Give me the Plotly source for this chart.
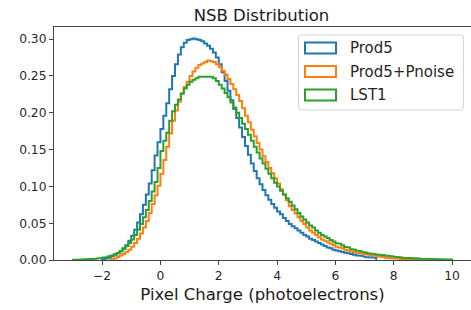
import numpy as np
import plotly.graph_objects as go

# ---------------- data (density histograms, bin width 0.1) ----------------
BIN_WIDTH = 0.1
series_names = ["Prod5", "Prod5+Pnoise", "LST1"]
series_colors = ["#1f77b4", "#ff7f0e", "#2ca02c"]

prod5_start = -2.0
prod5 = [0.001, 0.002, 0.003, 0.005, 0.007, 0.009, 0.012, 0.016, 0.020, 0.026,
         0.033, 0.041, 0.051, 0.062, 0.075, 0.089, 0.104, 0.122, 0.142, 0.160,
         0.178, 0.196, 0.213, 0.232, 0.250, 0.266, 0.279, 0.289, 0.295, 0.299,
         0.300, 0.301, 0.300, 0.299, 0.297, 0.294, 0.291, 0.287, 0.282, 0.275,
         0.266, 0.255, 0.243, 0.230, 0.217, 0.205, 0.193, 0.180, 0.167, 0.155,
         0.143, 0.131, 0.121, 0.111, 0.103, 0.095, 0.088, 0.082, 0.076, 0.071,
         0.066, 0.062, 0.057, 0.053, 0.049, 0.046, 0.043, 0.040, 0.037, 0.034,
         0.032, 0.029, 0.027, 0.025, 0.023, 0.021, 0.019, 0.017, 0.016, 0.014,
         0.013, 0.012, 0.011, 0.010, 0.009, 0.008, 0.007, 0.006, 0.006, 0.005,
         0.004, 0.004, 0.003, 0.003]

pnoise_start = -1.7
pnoise = [0.001, 0.002, 0.004, 0.006, 0.008, 0.011, 0.014, 0.018, 0.023, 0.029,
          0.036, 0.044, 0.053, 0.064, 0.076, 0.088, 0.101, 0.117, 0.136, 0.154,
          0.172, 0.189, 0.203, 0.215, 0.226, 0.235, 0.242, 0.250, 0.256, 0.261,
          0.265, 0.267, 0.269, 0.271, 0.270, 0.269, 0.266, 0.262, 0.257, 0.252,
          0.246, 0.239, 0.232, 0.224, 0.216, 0.206, 0.196, 0.187, 0.177, 0.168,
          0.159, 0.150, 0.141, 0.133, 0.125, 0.118, 0.111, 0.104, 0.096, 0.089,
          0.081, 0.073, 0.068, 0.063, 0.058, 0.053, 0.049, 0.044, 0.040, 0.037,
          0.034, 0.031, 0.028, 0.026, 0.024, 0.022, 0.020, 0.018, 0.017, 0.016,
          0.014, 0.013, 0.012, 0.011, 0.010, 0.009, 0.0085, 0.008, 0.007, 0.0065,
          0.006, 0.005, 0.0045, 0.004, 0.0032, 0.0028, 0.0025, 0.0022, 0.002, 0.0015,
          0.0012, 0.001, 0.0009, 0.0008, 0.0007, 0.0006]

lst1_start = -3.0
lst1 = [0.0003, 0.0004, 0.0005, 0.0006, 0.0008, 0.0010, 0.0013, 0.0016, 0.0020, 0.0026,
        0.0032, 0.0040, 0.0050, 0.0062, 0.0077, 0.0095, 0.012, 0.015, 0.019, 0.023,
        0.028, 0.034, 0.041, 0.049, 0.058, 0.068, 0.080, 0.093, 0.106, 0.125,
        0.148, 0.162, 0.173, 0.189, 0.202, 0.211, 0.218, 0.226, 0.233, 0.238,
        0.242, 0.245, 0.247, 0.249, 0.250, 0.250, 0.250, 0.249, 0.247, 0.243,
        0.238, 0.233, 0.227, 0.221, 0.214, 0.207, 0.200, 0.193, 0.185, 0.178,
        0.170, 0.162, 0.154, 0.146, 0.138, 0.131, 0.124, 0.117, 0.111, 0.105,
        0.100, 0.094, 0.089, 0.084, 0.079, 0.074, 0.069, 0.064, 0.059, 0.055,
        0.051, 0.047, 0.044, 0.040, 0.037, 0.034, 0.032, 0.030, 0.027, 0.025,
        0.023, 0.022, 0.020, 0.018, 0.017, 0.015, 0.014, 0.013, 0.012, 0.011,
        0.010, 0.009, 0.0085, 0.008, 0.0075, 0.007, 0.0065, 0.006, 0.0055, 0.005,
        0.0045, 0.004, 0.0035, 0.003, 0.003, 0.0027, 0.0025, 0.0022, 0.002, 0.0018,
        0.0016, 0.0014, 0.0013, 0.0012, 0.0011, 0.0010, 0.0009, 0.0008, 0.0008, 0.0007]

x_ticks = [-2, 0, 2, 4, 6, 8, 10]
y_ticks = [0.00, 0.05, 0.10, 0.15, 0.20, 0.25, 0.30]

title_text = "NSB Distribution"
x_label = "Pixel Charge (photoelectrons)"

# ---------------- figure ----------------
FONT = "DejaVu Sans"
W, H = 471, 310
L, R, T, B = 54, 0, 27, 50
PW, PH = W - L - R, H - T - B


def px_x(px):
    return (px - L) / PW


def px_y(py):
    return (H - B - py) / PH


def step_path(start, vals):
    vals = np.asarray(vals, dtype=float)
    edges = np.round(start + BIN_WIDTH * np.arange(len(vals) + 1), 6)
    xs = np.repeat(edges, 2)
    ys = np.concatenate([[0.0], np.repeat(vals, 2), [0.0]])
    return xs, ys


fig = go.Figure()
for name, color, start, vals in zip(series_names, series_colors,
                                    [prod5_start, pnoise_start, lst1_start],
                                    [prod5, pnoise, lst1]):
    xs, ys = step_path(start, vals)
    fig.add_trace(go.Scatter(x=xs, y=ys, mode="lines", name=name,
                             line=dict(color=color, width=2),
                             showlegend=False, hoverinfo="skip"))

axis_common = dict(showline=True, mirror=True, linecolor="#444", linewidth=1,
                   ticks="outside", ticklen=4, tickwidth=1, tickcolor="#444",
                   showgrid=False, zeroline=False,
                   tickfont=dict(family=FONT, size=12.3, color="#262626"))

fig.update_layout(
    width=W, height=H,
    margin=dict(l=L, r=R, t=T, b=B, pad=0),
    plot_bgcolor="white", paper_bgcolor="white",
    showlegend=False,
    title=dict(text=title_text, x=px_x(261.5), xref="paper", xanchor="center",
               y=1 - 15 / H, yref="container", yanchor="middle",
               font=dict(family=FONT, size=16.5, color="#1a1a1a")),
    xaxis=dict(range=[-3.65, 10.65], tickvals=x_ticks,
               ticktext=[("\u2212" + str(-v)) if v < 0 else str(v) for v in x_ticks],
               title=dict(text=x_label, standoff=6,
                          font=dict(family=FONT, size=16.5, color="#1a1a1a")),
               **axis_common),
    yaxis=dict(range=[0, 0.3165], tickvals=y_ticks,
               ticktext=["%.2f" % v for v in y_ticks],
               **axis_common),
)

# ---------------- legend (drawn like matplotlib's patch legend) ----------------
bx0, bx1, by0, by1, rad = 298.5, 463.5, 35, 110, 3
rx, ry = rad / PW, rad / PH
X0, X1, Y0, Y1 = px_x(bx0), px_x(bx1), px_y(by1), px_y(by0)
path = (f"M{X0 + rx},{Y0} L{X1 - rx},{Y0} Q{X1},{Y0} {X1},{Y0 + ry} "
        f"L{X1},{Y1 - ry} Q{X1},{Y1} {X1 - rx},{Y1} L{X0 + rx},{Y1} "
        f"Q{X0},{Y1} {X0},{Y1 - ry} L{X0},{Y0 + ry} Q{X0},{Y0} {X0 + rx},{Y0} Z")
fig.add_shape(type="path", path=path, xref="paper", yref="paper",
              line=dict(color="#d5d5d5", width=1), fillcolor="rgba(255,255,255,0.8)",
              layer="above")

row_centers = [48, 71.5, 95]
for name, color, cy in zip(series_names, series_colors, row_centers):
    fig.add_shape(type="rect", xref="paper", yref="paper",
                  x0=px_x(305), x1=px_x(336), y0=px_y(cy + 5.5), y1=px_y(cy - 5.5),
                  line=dict(color=color, width=2), fillcolor="rgba(0,0,0,0)",
                  layer="above")
    fig.add_annotation(text=name, xref="paper", yref="paper",
                       x=px_x(347.5), y=px_y(cy), xanchor="left", yanchor="middle",
                       showarrow=False,
                       font=dict(family=FONT, size=15, color="#262626"))

fig.write_html("out.html",
               config={"displayModeBar": False, "staticPlot": True},
               post_script="document.body.style.margin='0';document.body.style.overflow='hidden';")
